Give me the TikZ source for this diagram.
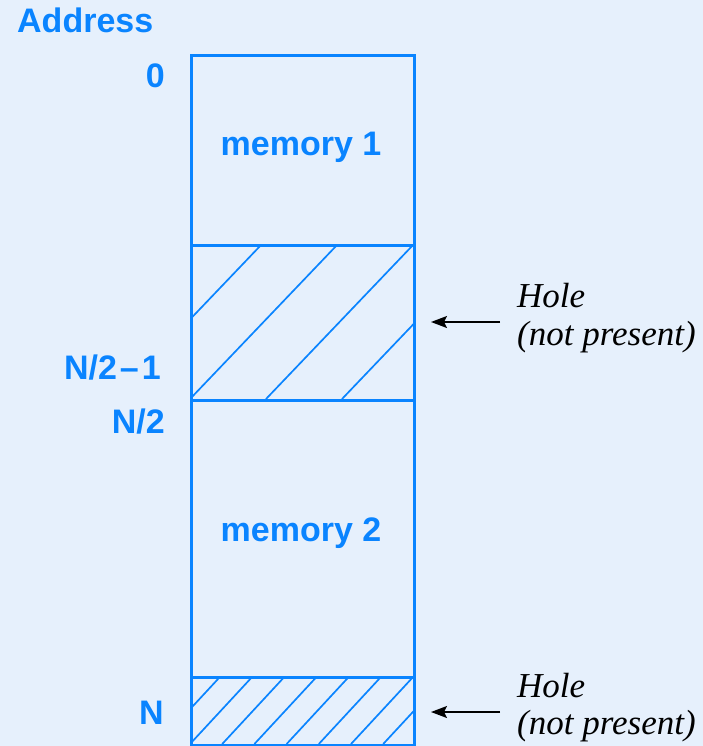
\documentclass[tikz,border=0pt]{standalone}
\usepackage{fontspec}
\setmainfont{Liberation Sans}
\newfontfamily\serifit{Liberation Serif}
\usetikzlibrary{arrows.meta}
\definecolor{bg}{RGB}{230,240,252}
\definecolor{mblue}{RGB}{10,132,255}
\tikzset{
  region/.style={draw=mblue, line width=3pt, minimum width=223pt, inner sep=0pt, anchor=north west},
  regiontext/.style={font=\fontsize{34}{34}\selectfont\bfseries, text=mblue, inner sep=0pt},
  addr/.style={font=\fontsize{34}{34}\selectfont\bfseries, text=mblue, inner sep=0pt},
  holetext/.style={font=\fontsize{35}{40}\selectfont\serifit\itshape, text=black, inner sep=0pt, anchor=base west},
  hatch/.style={draw=mblue, line width=1.7pt},
  pointer/.style={draw=black, line width=1.7pt, -{Stealth[length=16pt,width=12pt,inset=3pt]}}
}
\begin{document}
\begin{tikzpicture}[x=1pt,y=-1pt]
\fill[bg] (0,0) rectangle (703,746);
\useasboundingbox (0,0) rectangle (703,746);
% hatching
\begin{scope}
  \clip (190,244) rectangle (413,399);
  \foreach \k in {-1,0,1,2} {
    \draw[hatch] ({190+76*\k},399) -- ({190+76*\k+148},244);
  }
\end{scope}
\begin{scope}
  \clip (190,676) rectangle (413,744);
  \foreach \k in {-1,0,...,6} {
    \draw[hatch] ({190+32.2*\k},744) -- ({190+32.2*\k+63},676);
  }
\end{scope}
% regions
\node[region, minimum height=190pt] (mem1) at (190,54) {};
\node[region, minimum height=155pt] (hole1) at (190,244) {};
\node[region, minimum height=277pt] (mem2) at (190,399) {};
\node[region, minimum height=68pt] (hole2) at (190,676) {};
\node[regiontext] (m1) at (301,147) {memory 1};
\node[regiontext] (m2) at (301,533) {memory 2};
% address labels
\node[addr, anchor=base west] (addrtitle) at (17,33) {Address};
\node[addr, anchor=base east] (a0) at (165,88) {0};
\node[addr, anchor=base east] (ahalfm) at (161,379) {N/2\kern3pt–\kern3pt1};
\node[addr, anchor=base east] (ahalf) at (165,433) {N/2};
\node[addr, anchor=base east] (aN) at (164,724) {N};
% hole annotations
\node[holetext] (h1a) at (517,307) {Hole};
\node[holetext] (h1b) at (517,345) {(not present)};
\node[holetext] (h2a) at (517,697) {Hole};
\node[holetext] (h2b) at (517,734) {(not present)};
\coordinate (p1s) at (500,322);
\coordinate (p1e) at (431,322);
\coordinate (p2s) at (500,712);
\coordinate (p2e) at (431,712);
\draw[pointer] (p1s) -- (p1e);
\draw[pointer] (p2s) -- (p2e);
\end{tikzpicture}
\end{document}
